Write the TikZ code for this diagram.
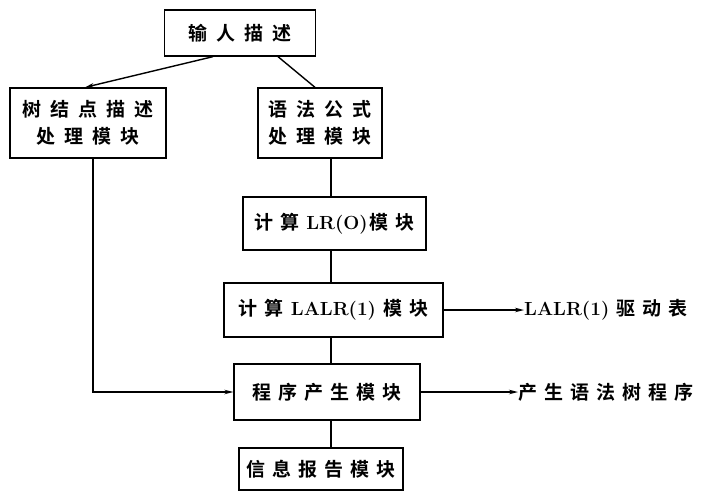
\documentclass[tikz,border=0pt]{standalone}
\usepackage{fontspec}
\newfontfamily\cjk{Noto Sans CJK SC Bold}
\usetikzlibrary{arrows.meta}
\newcommand{\gp}{\hspace{9pt}}
\newcommand{\gq}{\hspace{7pt}}
\begin{document}
\begin{tikzpicture}[x=1pt,y=-1pt,
  box/.style={draw,line width=1.3pt,inner sep=0pt,align=center,font=\cjk\fontsize{19}{27}\selectfont},
  lbl/.style={inner sep=0pt,anchor=west,font=\cjk\fontsize{19}{27}\selectfont},
  conn/.style={line width=1.4pt},
  arr/.style={conn,-{Stealth[length=9pt,width=4.5pt]}}]
\useasboundingbox (0,0) rectangle (708,496);
\node[box,minimum width=151pt,minimum height=46pt] (in) at (240,33) {输\gp 人\gp 描\gp 述};
\node[box,minimum width=156pt,minimum height=70pt] (tree) at (88,123) {树\gp 结\gp 点\gp 描\gp 述\\处\gp 理\gp 模\gp 块};
\node[box,minimum width=124pt,minimum height=70pt] (gram) at (320,123) {语\gp 法\gp 公\gp 式\\处\gp 理\gp 模\gp 块};
\node[box,minimum width=183pt,minimum height=53pt] (lr0) at (334.5,223.5) {计\gq 算\gq {\rmfamily\bfseries LR(O)}\hspace{2pt}模\gq 块};
\node[box,minimum width=219pt,minimum height=54pt] (lalr) at (333.5,310) {计\gq 算\gq {\rmfamily\bfseries LALR(1)}\gq 模\gq 块};
\node[box,minimum width=186pt,minimum height=56pt] (prog) at (327,392) {程\gq 序\gq 产\gq 生\gq 模\gq 块};
\node[box,minimum width=164pt,minimum height=42pt] (info) at (321,469) {信\gq 息\gq 报\gq 告\gq 模\gq 块};
\node[lbl] (drv) at (524,310) {{\rmfamily\bfseries LALR(1)}\gq 驱\gq 动\gq 表};
\node[lbl] (out) at (518,392) {产\gq 生\gq 语\gq 法\gq 树\gq 程\gq 序};
\coordinate (sp) at (331,0);
\coordinate (lx) at (93,0);
\draw[arr] ([xshift=-27pt]in.south) -- ([xshift=-3pt]tree.north);
\draw[conn] ([xshift=38pt]in.south) -- ([xshift=-5pt]gram.north);
\draw[conn] (gram.south -| sp) -- (lr0.north -| sp);
\draw[conn] (lr0.south -| sp) -- (lalr.north -| sp);
\draw[conn] (lalr.south -| sp) -- (prog.north -| sp);
\draw[conn] (prog.south -| sp) -- (info.north -| sp);
\draw[arr] (tree.south -| lx) |- (prog.west);
\draw[arr] (lalr.east) -- (drv.west);
\draw[arr] (prog.east) -- (out.west);
\end{tikzpicture}
\end{document}
